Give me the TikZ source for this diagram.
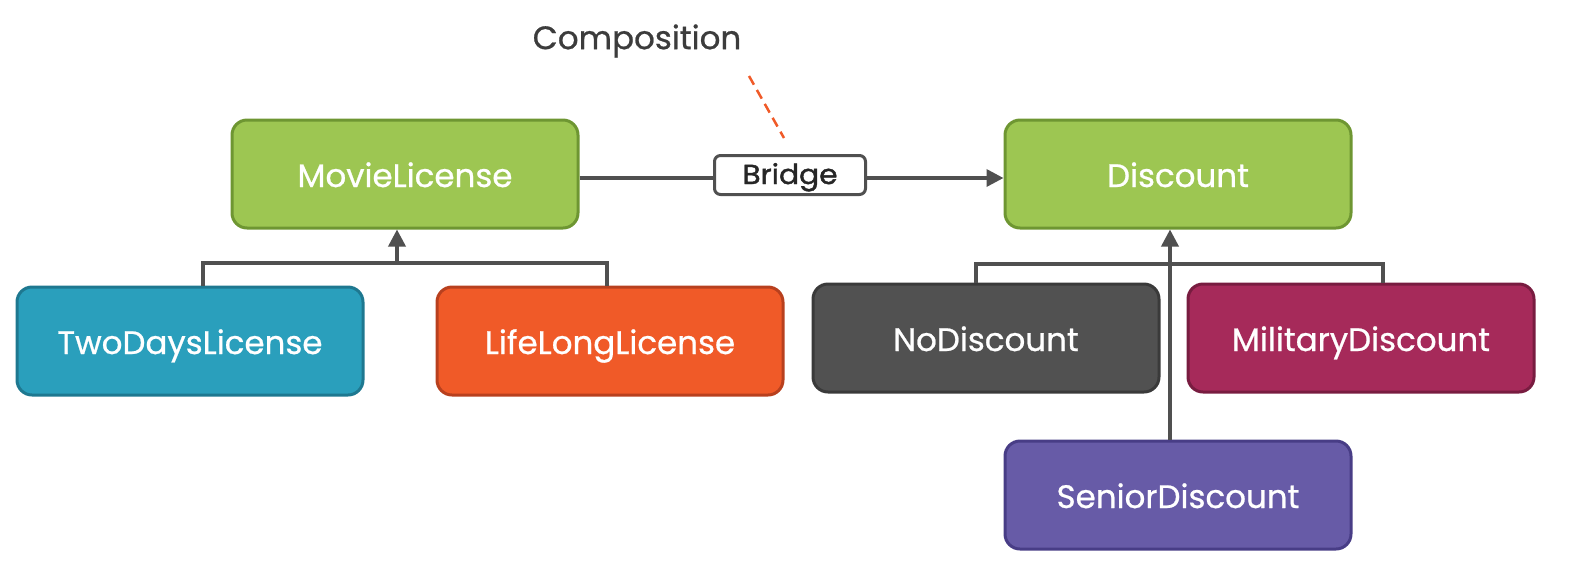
\documentclass[tikz,border=0pt]{standalone}
\usepackage{fontspec}
\setmainfont{Poppins}
\newfontfamily\nodefont[FakeBold=0.7]{Poppins}
\newfontfamily\bridgefont[FakeBold=1.4,FakeStretch=1.08]{Poppins}
\usetikzlibrary{arrows.meta}
\definecolor{lgreen}{HTML}{9DC652}
\definecolor{lgreenB}{HTML}{6E9632}
\definecolor{lteal}{HTML}{2A9FBC}
\definecolor{ltealB}{HTML}{1E7890}
\definecolor{lorange}{HTML}{F05A28}
\definecolor{lorangeB}{HTML}{B8401E}
\definecolor{lgray}{HTML}{515151}
\definecolor{lgrayB}{HTML}{3A3A3A}
\definecolor{lcrim}{HTML}{A62A5A}
\definecolor{lcrimB}{HTML}{781C40}
\definecolor{lpurp}{HTML}{675BA7}
\definecolor{lpurpB}{HTML}{483D86}
\definecolor{lline}{HTML}{505050}
\definecolor{ltext}{HTML}{3C3C3C}
\begin{document}
\begin{tikzpicture}[x=1pt,y=-1pt,
  cls/.style={rectangle, rounded corners=15pt, line width=3pt, minimum width=346pt, minimum height=108pt, text=white, font=\nodefont\fontsize{32.5}{38}\selectfont, inner sep=0pt, text height=27pt, text depth=1pt},
  conn/.style={draw=lline, line width=3.5pt},
  tip/.style={-{Triangle[length=17pt,width=17pt]}},
  bridgebox/.style={rectangle, rounded corners=6pt, draw=lline, fill=white, line width=3pt, minimum width=151pt, minimum height=39pt, inner sep=0pt, text=black!85, font=\bridgefont\fontsize{27.5}{30}\selectfont, text height=20pt, text depth=2pt}
]
\useasboundingbox (0,0) rectangle (1572,566);
\node[cls, fill=lgreen, draw=lgreenB] (ml) at (405,174) {MovieLicense};
\node[cls, fill=lteal, draw=ltealB] (td) at (190,341) {TwoDaysLicense};
\node[cls, fill=lorange, draw=lorangeB] (ll) at (610,341) {LifeLongLicense};
\node[cls, fill=lgreen, draw=lgreenB] (dc) at (1178,174) {Discount};
\node[cls, fill=lgray, draw=lgrayB] (nd) at (986,338) {NoDiscount};
\node[cls, fill=lcrim, draw=lcrimB] (md) at (1361,338) {MilitaryDiscount};
\node[cls, fill=lpurp, draw=lpurpB] (sd) at (1178,495) {SeniorDiscount};
\node[bridgebox] (br) at (790,175) {Bridge};
\node[text=ltext, font=\nodefont\fontsize{32.5}{38}\selectfont] (comp) at (637,41) {Composition};
\coordinate (cA) at (749,76);
\coordinate (cB) at (784,138);
\draw[draw=lorange, line width=2.5pt, dash pattern=on 10pt off 6pt] (cA) -- (cB);
% bridge line
\draw[conn] (ml.east |- 0,178) -- (br.west |- 0,178);
\draw[conn, tip] (br.east |- 0,178) -- (dc.west |- 0,178);
% left tree
\coordinate (lj) at (397,263);
\draw[conn] (203,286) -- (203,263) -- (607,263) -- (607,286);
\draw[conn, tip] (lj) -- (lj |- ml.south);
% right tree
\draw[conn] (976,283) -- (976,264) -- (1383,264) -- (1383,283);
\coordinate (rj) at (1170,440);
\draw[conn, tip] (rj |- sd.north) -- (rj |- dc.south);
\end{tikzpicture}
\end{document}
